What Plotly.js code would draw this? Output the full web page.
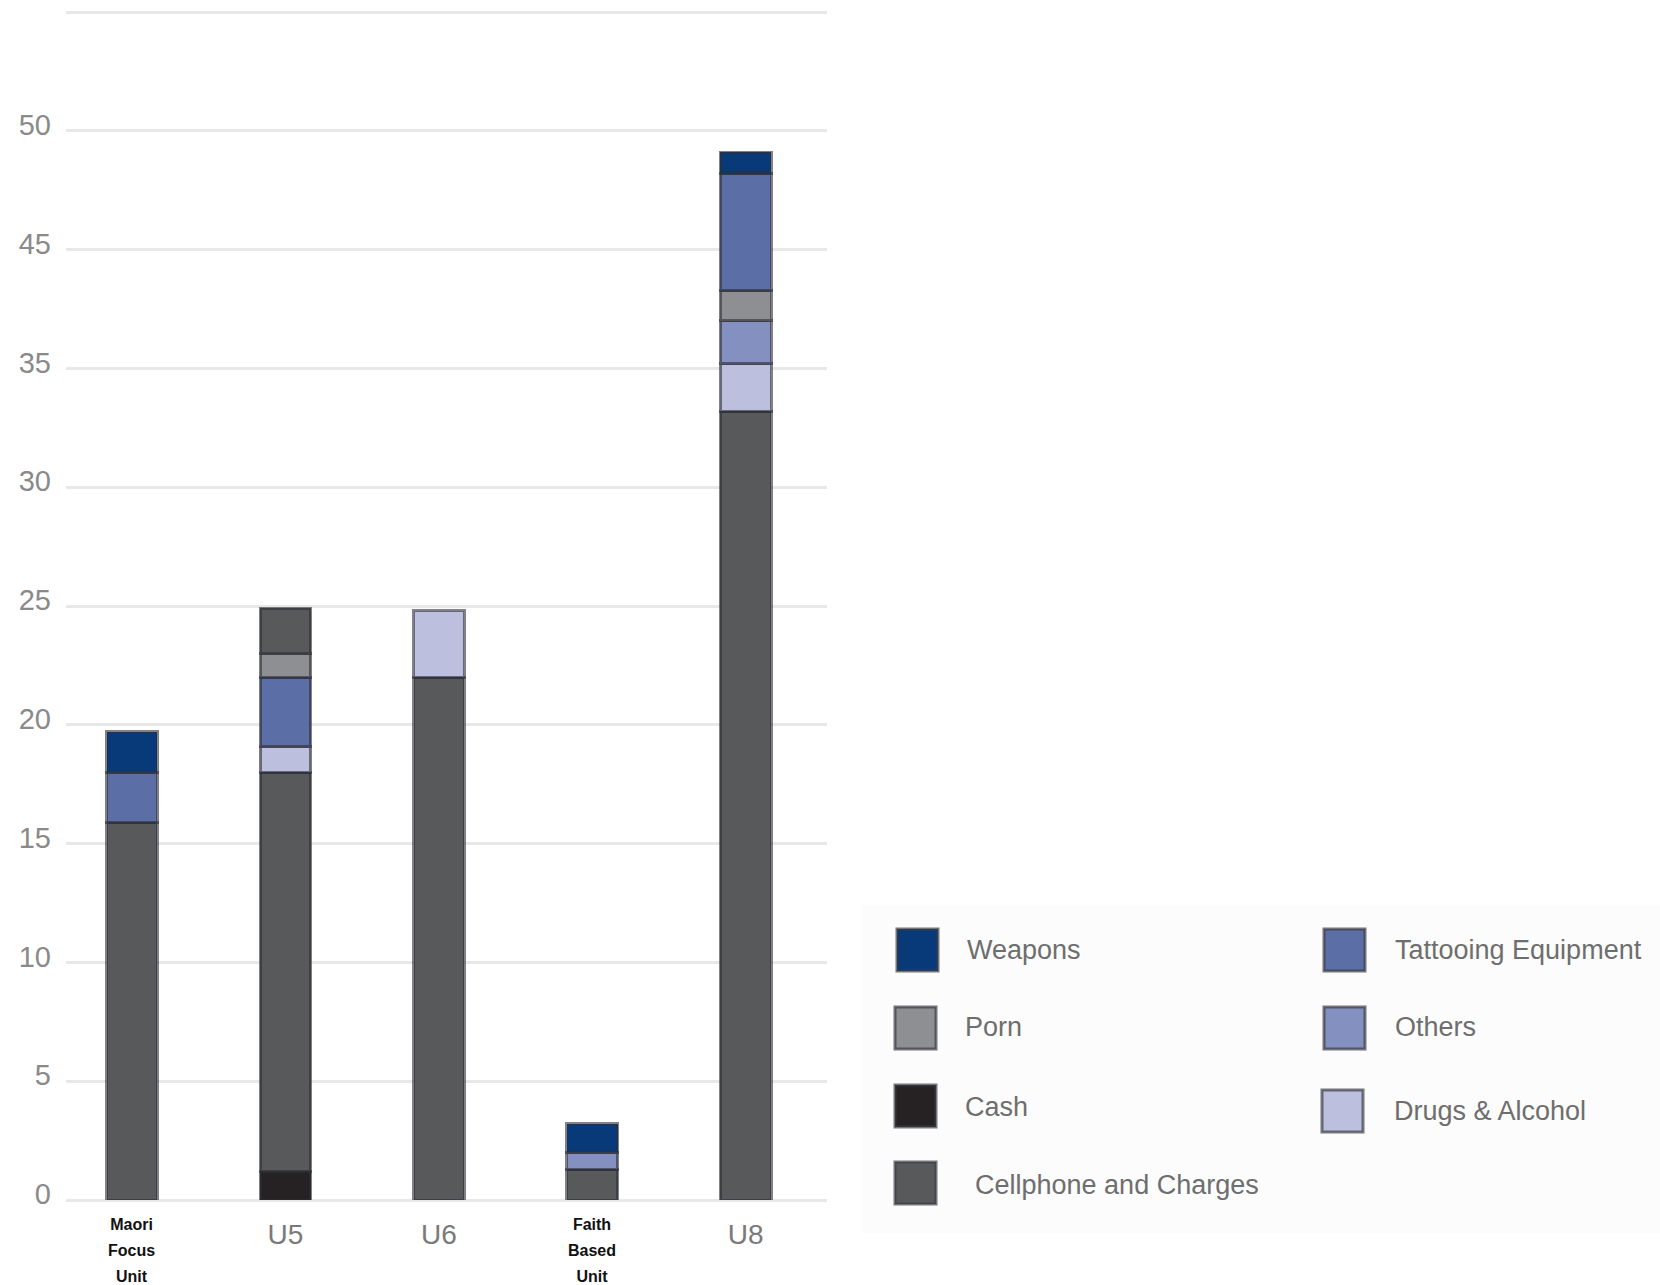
<!DOCTYPE html>
<html>
<head>
<meta charset="utf-8">
<script src="https://cdn.plot.ly/plotly-3.0.1.min.js"></script>
<style>html,body{margin:0;padding:0;background:#fff;}#chart{width:1660px;height:1285px;}</style>
</head>
<body>
<div id="chart"></div>
<script>
// ---- data ----
const categories = ["Maori Focus Unit", "U5", "U6", "Faith Based Unit", "U8"];
const cash           = [null, 1.2, null, null, null];
const cellphone      = [15.9, 16.8, 22, 1.3, 33.2];
const drugs          = [null, 1.1, 2.8, null, 2];
const others         = [null, null, null, 0.7, 1.8];
const pornLower      = [null, null, null, null, 1.3];
const tattoo         = [2.1, 2.9, null, null, 4.9];
const pornUpper      = [null, 1, null, null, null];
const weapons        = [1.7, null, null, 1.2, 0.9];
const cellphoneUpper = [null, 1.9, null, null, null];
const yTickVals  = [0, 5, 10, 15, 20, 25, 30, 35, 40, 45, 50];
const yTickTexts = ["0", "5", "10", "15", "20", "25", "30", "35", "45", "50", ""];
const legendNames = ["Weapons", "Tattooing Equipment", "Porn", "Others", "Cash", "Drugs & Alcohol", "Cellphone and Charges"];

// ---- styles ----
const COLORS = {
  "Weapons": "#083a7a",
  "Tattooing Equipment": "#5b6ea5",
  "Porn": "#8e8f92",
  "Others": "#8491c0",
  "Cash": "#262223",
  "Drugs & Alcohol": "#bcc0de",
  "Cellphone and Charges": "#58595b"
};
const FONT = "Liberation Sans, Arial, sans-serif";
const W = 1660, H = 1285;
const M = {l: 66, r: 833, t: 5, b: 85};
const plotW = W - M.l - M.r, plotH = H - M.t - M.b;
const px = x => (x - M.l) / plotW;
const py = y => (H - M.b - y) / plotH;

const stack = [
  ["Cash", cash], ["Cellphone and Charges", cellphone], ["Drugs & Alcohol", drugs],
  ["Others", others], ["Porn", pornLower], ["Tattooing Equipment", tattoo],
  ["Porn", pornUpper], ["Weapons", weapons], ["Cellphone and Charges", cellphoneUpper]
];
const traces = stack.map(([name, vals]) => ({
  type: "bar", name: name, x: categories, y: vals, showlegend: false,
  marker: {color: COLORS[name], line: {color: "rgba(45,45,55,0.6)", width: 3}},
  hoverinfo: "name+y"
}));

// single-word categories as axis tick labels; multi-word ones as tiny stacked labels
const tickText = categories.map(c => c.indexOf(" ") >= 0 ? "" : c);

const shapes = [{
  type: "rect", xref: "paper", yref: "paper", layer: "below",
  x0: px(862), x1: px(1660), y0: py(905), y1: py(1233),
  fillcolor: "#fcfcfc", line: {width: 0}
}];
const annotations = [];
categories.forEach(c => {
  if (c.indexOf(" ") < 0) return;
  annotations.push({
    xref: "x", yref: "paper", x: c, y: py(1250), xanchor: "center", yanchor: "middle",
    showarrow: false,
    text: c.split(" ").map(w => '<span style="font-size:16px">' + w + '</span>').join("<br>"),
    font: {family: FONT, size: 20, color: "#111111", weight: "bold"}
  });
});

// legend drawn with shapes and annotations
const legendLayout = {
  "Weapons":               {sx: 897, sy: 929, tx: 965, ty: 950},
  "Tattooing Equipment":   {sx: 1324, sy: 929, tx: 1393, ty: 950},
  "Porn":                  {sx: 895, sy: 1007, tx: 963, ty: 1027},
  "Others":                {sx: 1324, sy: 1007, tx: 1393, ty: 1027},
  "Cash":                  {sx: 895, sy: 1085, tx: 963, ty: 1107},
  "Drugs & Alcohol":       {sx: 1322, sy: 1090, tx: 1392, ty: 1111},
  "Cellphone and Charges": {sx: 895, sy: 1162, tx: 973, ty: 1185}
};
legendNames.forEach(n => {
  const p = legendLayout[n];
  shapes.push({
    type: "rect", xref: "paper", yref: "paper",
    x0: px(p.sx), x1: px(p.sx + 41), y0: py(p.sy + 42), y1: py(p.sy),
    fillcolor: COLORS[n], line: {color: "rgba(60,60,70,0.7)", width: 3}
  });
  annotations.push({
    xref: "paper", yref: "paper", x: px(p.tx), y: py(p.ty),
    xanchor: "left", yanchor: "middle", showarrow: false, text: n,
    font: {family: FONT, size: 27, color: "#6e6e6e"}
  });
});

const layout = {
  width: W, height: H,
  margin: M,
  paper_bgcolor: "#ffffff", plot_bgcolor: "#ffffff",
  barmode: "stack", bargap: 0.67,
  showlegend: false,
  font: {family: FONT},
  xaxis: {
    type: "category", range: [-0.43, 4.53],
    tickvals: categories, ticktext: tickText,
    tickfont: {size: 28, color: "#7a7a7a"},
    ticklabelstandoff: 15,
    showgrid: false, zeroline: false, showline: false, ticks: ""
  },
  yaxis: {
    range: [0, 50.3],
    tickvals: yTickVals, ticktext: yTickTexts,
    tickfont: {size: 29, color: "#8a8a8a"},
    ticklabelstandoff: 14, ticklabelshift: -6,
    showgrid: true, gridcolor: "#e8e8e8", gridwidth: 3,
    zeroline: true, zerolinecolor: "#e8e8e8", zerolinewidth: 3,
    showline: false, ticks: ""
  },
  shapes: shapes,
  annotations: annotations
};

Plotly.newPlot("chart", traces, layout, {displayModeBar: false, staticPlot: true});
</script>
</body>
</html>
